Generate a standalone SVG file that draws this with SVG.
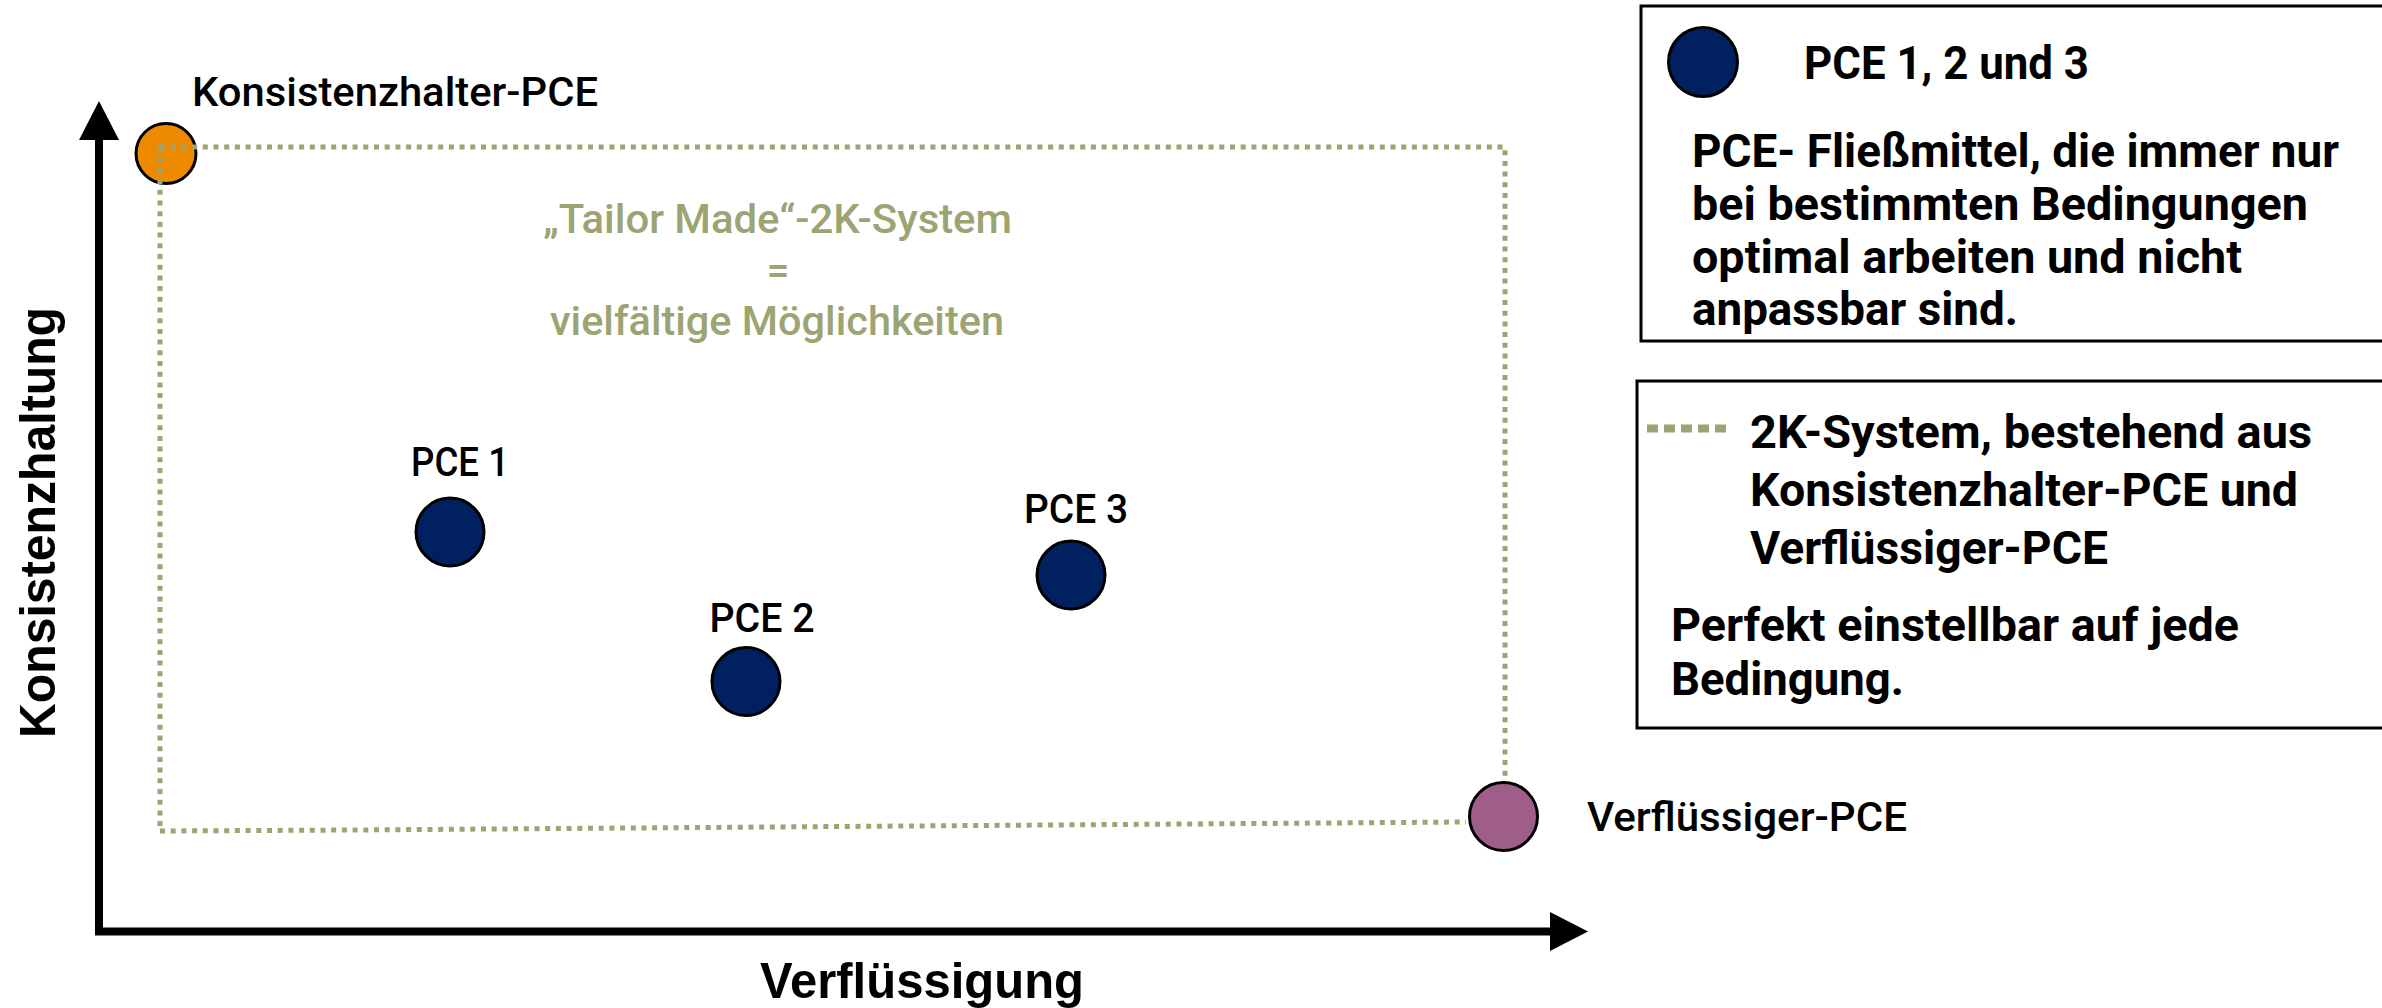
<svg xmlns="http://www.w3.org/2000/svg" width="2382" height="1008" viewBox="0 0 2382 1008">
<style>
.lbl{font-family:Roboto,"Liberation Sans",sans-serif;font-weight:500;font-size:40px;fill:#000}
.ctr{font-family:Roboto,"Liberation Sans",sans-serif;font-weight:500;font-size:40px;fill:#9CA472;text-anchor:middle}
.leg{font-family:Roboto,"Liberation Sans",sans-serif;font-weight:700;font-size:46px;fill:#000}
.axis{font-family:"Liberation Sans",Arial,sans-serif;font-weight:700;font-size:50px;fill:#000}
.dot{fill:none;stroke:#9CA472;stroke-width:5;stroke-dasharray:5 5.7}
.pt{stroke:#000;stroke-width:3}
.box{fill:#fff;stroke:#000;stroke-width:3}
</style>
<rect width="2382" height="1008" fill="#fff"/>
<g id="axes">
<line x1="99" y1="135" x2="99" y2="935" stroke="#000" stroke-width="8"/>
<polygon points="99,101 119,140 79,140" fill="#000"/>
<line x1="95" y1="931.5" x2="1555" y2="931.5" stroke="#000" stroke-width="8"/>
<polygon points="1588,931.5 1550,912 1550,951" fill="#000"/>
<text class="axis" transform="translate(55,522.5) rotate(-90)" text-anchor="middle" textLength="431" lengthAdjust="spacingAndGlyphs">Konsistenzhaltung</text>
<text class="axis" x="922" y="998" text-anchor="middle" textLength="324" lengthAdjust="spacingAndGlyphs">Verflüssigung</text>
</g>
<g id="node-konsistenzhalter">
<circle class="pt" cx="166" cy="153.5" r="30" fill="#EE8A00"/>
<text class="lbl" x="192" y="106" textLength="406" lengthAdjust="spacingAndGlyphs">Konsistenzhalter-PCE</text>
</g>
<g id="node-verfluessiger">
<circle class="pt" cx="1503.5" cy="816.5" r="34" fill="#9E5E87"/>
<text class="lbl" x="1587" y="831" textLength="320" lengthAdjust="spacingAndGlyphs">Verflüssiger-PCE</text>
</g>
<g id="connectors">
<path class="dot" d="M160,147 H1505 V780"/>
<path class="dot" d="M160,147 V831"/>
<path class="dot" d="M160,831 L352,830 L1466,822"/>
</g>
<g id="node-pce1">
<circle class="pt" cx="450" cy="532" r="34" fill="#002060"/>
<text class="lbl" x="411" y="476" textLength="98" lengthAdjust="spacingAndGlyphs">PCE 1</text>
</g>
<g id="node-pce2">
<circle class="pt" cx="746" cy="681.5" r="34" fill="#002060"/>
<text class="lbl" x="709.5" y="631.5" textLength="105" lengthAdjust="spacingAndGlyphs">PCE 2</text>
</g>
<g id="node-pce3">
<circle class="pt" cx="1071" cy="575" r="34" fill="#002060"/>
<text class="lbl" x="1024" y="522.5" textLength="104" lengthAdjust="spacingAndGlyphs">PCE 3</text>
</g>
<g id="center-label">
<text class="ctr" x="777.5" y="233" textLength="469" lengthAdjust="spacingAndGlyphs">„Tailor Made“-2K-System</text>
<text class="ctr" x="778" y="284">=</text>
<text class="ctr" x="777" y="335" textLength="454" lengthAdjust="spacingAndGlyphs">vielfältige Möglichkeiten</text>
</g>
<g id="legend-pce">
<rect class="box" x="1641" y="6" width="1000" height="335"/>
<circle class="pt" cx="1703" cy="62" r="34.5" fill="#002060"/>
<text class="leg" x="1804" y="79" textLength="285" lengthAdjust="spacingAndGlyphs">PCE 1, 2 und 3</text>
<text class="leg" x="1692" y="167" textLength="647" lengthAdjust="spacingAndGlyphs">PCE- Fließmittel, die immer nur</text>
<text class="leg" x="1692" y="220" textLength="616" lengthAdjust="spacingAndGlyphs">bei bestimmten Bedingungen</text>
<text class="leg" x="1692" y="273" textLength="550" lengthAdjust="spacingAndGlyphs">optimal arbeiten und nicht</text>
<text class="leg" x="1692" y="325" textLength="326" lengthAdjust="spacingAndGlyphs">anpassbar sind.</text>
</g>
<g id="legend-2k">
<rect class="box" x="1637" y="381" width="1000" height="347"/>
<line x1="1647" y1="428.5" x2="1728" y2="428.5" stroke="#9CA472" stroke-width="8" stroke-dasharray="11 6"/>
<text class="leg" x="1750" y="448" textLength="562" lengthAdjust="spacingAndGlyphs">2K-System, bestehend aus</text>
<text class="leg" x="1750" y="506" textLength="548" lengthAdjust="spacingAndGlyphs">Konsistenzhalter-PCE und</text>
<text class="leg" x="1750" y="564" textLength="358" lengthAdjust="spacingAndGlyphs">Verflüssiger-PCE</text>
<text class="leg" x="1671" y="641" textLength="568" lengthAdjust="spacingAndGlyphs">Perfekt einstellbar auf jede</text>
<text class="leg" x="1671" y="695" textLength="233" lengthAdjust="spacingAndGlyphs">Bedingung.</text>
</g>
</svg>
